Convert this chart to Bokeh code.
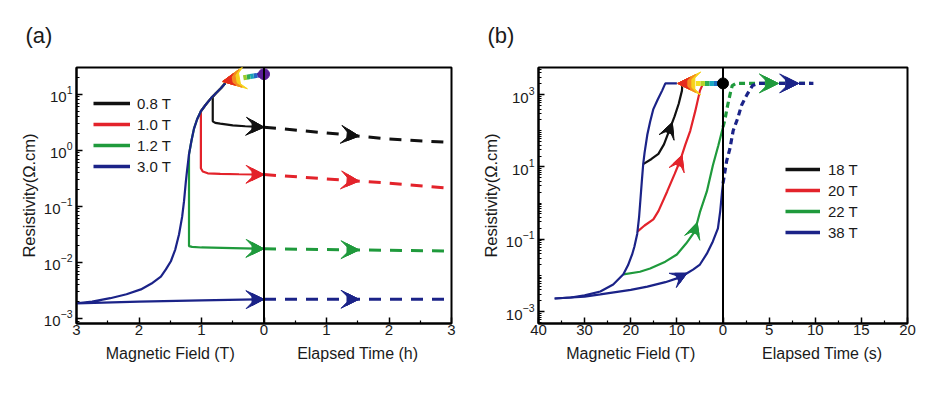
import numpy as np
from bokeh.plotting import figure
from bokeh.layouts import row
from bokeh.models import (Range1d, FixedTicker, CustomJSTickFormatter, Span, Title, LinearAxis,
                          Legend, LegendItem, Arrow, VeeHead, NormalHead)
from bokeh.embed import file_html
from bokeh.resources import INLINE

FONT = "Liberation Sans"
BLACK, RED, GREEN, BLUE = "#111111", "#e3232b", "#1f9a3c", "#1b2388"

# ======================= panel (a) data =======================
series_a = ["0.8 T", "1.0 T", "1.2 T", "3.0 T"]
colors_a = [BLACK, RED, GREEN, BLUE]
axis_titles_a = ["Magnetic Field (T)", "Elapsed Time (h)"]

# field up-sweep (common curve), field in T, resistivity in Ohm.cm
upsweep_a_B = [0.62, 0.69, 0.77, 0.85, 0.93, 1.01, 1.07, 1.12, 1.16, 1.20, 1.23, 1.25,
               1.28, 1.31, 1.36, 1.42, 1.49, 1.57, 1.65, 1.80, 1.97, 2.20, 2.46, 2.75, 3.00]
upsweep_a_rho = [15.8, 12.9, 10.5, 8.5, 6.6, 5.0, 3.6, 2.45, 1.5, 0.85, 0.45, 0.28,
                 0.123, 0.065, 0.0316, 0.017, 0.0105, 0.0075, 0.0056, 0.0042, 0.0033,
                 0.0027, 0.0023, 0.0020, 0.00186]
stop_field_a = [0.82, 1.01, 1.20, 3.00]

# field held / swept back to zero
hold_08_B = [0.82, 0.82, 0.78, 0.70, 0.50, 0.30, 0.00]
hold_08_rho = [9.0, 3.3, 3.1, 3.0, 2.8, 2.7, 2.6]
hold_10_B = [1.01, 1.01, 0.98, 0.90, 0.70, 0.40, 0.00]
hold_10_rho = [5.0, 0.48, 0.42, 0.39, 0.38, 0.375, 0.37]
hold_12_B = [1.20, 1.20, 1.15, 1.00, 0.50, 0.00]
hold_12_rho = [0.85, 0.0195, 0.0190, 0.0185, 0.0180, 0.0175]
hold_30_B = [3.00, 2.00, 1.00, 0.00]
hold_30_rho = [0.00186, 0.0020, 0.0021, 0.0022]

# relaxation at zero field vs elapsed time (h)
time_a_h = [0, 1, 2, 3]
relax_08 = [2.6, 2.05, 1.6, 1.38]
relax_10 = [0.37, 0.31, 0.26, 0.21]
relax_12 = [0.0175, 0.017, 0.0165, 0.016]
relax_30 = [0.0022, 0.0022, 0.0022, 0.0022]

start_a = (0.0, 23.0)     # (field, rho) sweep start
tip_a = (0.66, 17.0)      # (field, rho) rainbow arrow tip

# ======================= panel (b) data =======================
series_b = ["18 T", "20 T", "22 T", "38 T"]
colors_b = [BLACK, RED, GREEN, BLUE]
axis_titles_b = ["Magnetic Field (T)", "Elapsed Time (s)"]

up_b_B = [10.0, 12.5, 13.2, 14.2, 15.1, 15.8, 16.4, 17.0, 17.3, 17.6, 17.9, 18.2, 18.6,
          19.2, 19.7, 20.6, 21.6, 23.8, 26.6, 30.0, 33.0, 36.5]
up_b_rho = [2040, 2040, 1290, 708, 398, 178, 79, 25, 12, 4.0, 1.26, 0.40, 0.14,
            0.063, 0.038, 0.019, 0.0107, 0.0056, 0.0036, 0.0028, 0.00245, 0.0023]

ret_38_B = [36.5, 30.0, 26.6, 20.0, 16.4, 12.5, 10.0, 7.8, 6.5, 5.0, 3.5, 2.2, 1.1, 0.6, 0.2, 0.0]
ret_38_rho = [0.0023, 0.0026, 0.0030, 0.0040, 0.0049, 0.0065, 0.0083, 0.0115, 0.0145,
              0.020, 0.040, 0.087, 0.20, 0.60, 2.1, 3.5]
ret_22_B = [21.6, 18.0, 15.8, 12.5, 10.0, 8.0, 6.1, 5.0, 3.5, 2.2, 1.0, 0.0]
ret_22_rho = [0.0107, 0.0126, 0.0155, 0.024, 0.038, 0.076, 0.166, 0.56, 2.1, 11, 40, 126]
ret_20_B = [18.5, 17.0, 15.1, 14.0, 12.1, 10.5, 9.3, 8.2, 7.1, 6.0, 5.0, 4.3]
ret_20_rho = [0.166, 0.24, 0.355, 0.60, 2.1, 6.3, 14.8, 40, 100, 355, 1290, 2040]
ret_18_B = [17.3, 15.5, 14.0, 12.8, 11.5, 10.5, 9.6, 8.9, 8.8]
ret_18_rho = [12, 16.6, 23, 42, 115, 250, 560, 1290, 2040]

time_38_s = [0, 0.4, 0.75, 1.1, 1.6, 2.0, 2.6, 3.2, 3.8, 9.8]
relax_38 = [3.5, 14.8, 32, 100, 224, 500, 1000, 1780, 2040, 2040]
time_22_s = [0, 0.2, 0.5, 0.8, 1.0, 1.4, 9.5]
relax_22 = [126, 200, 500, 1120, 1780, 2040, 2040]

start_b = (0.0, 2040.0)
tip_b = (9.8, 2040.0)


# ======================= helpers =======================
def logi(xs, rs, x):
    xs = np.asarray(xs, float)
    rs = np.log10(np.asarray(rs, float))
    o = np.argsort(xs, kind="stable")
    return float(10 ** np.interp(x, xs[o], rs[o]))


def add_head(p, x0, y0, x1, y1, head):
    p.add_layout(Arrow(end=head, x_start=x0, y_start=y0, x_end=x1, y_end=y1,
                       line_alpha=0, line_width=0))


def add_arrow(p, x0, y0, x1, y1, color, size=17):
    add_head(p, x0, y0, x1, y1, VeeHead(size=size, fill_color=color, line_color=color, line_width=1))
    add_head(p, x0, y0, x1, y1, NormalHead(size=round(size * 0.68), fill_color=color,
                                           line_color=color, line_width=1))


def rainbow_arrow(p, x0, y0, x1, y1, colors, frac):
    n = len(colors)
    xs = np.linspace(x0, x0 + (x1 - x0) * frac, n + 1)
    ly = np.linspace(np.log10(y0), np.log10(y0) + (np.log10(y1) - np.log10(y0)) * frac, n + 1)
    ys = 10 ** ly
    p.segment(xs[:-1], ys[:-1], xs[1:], ys[1:], line_color=colors, line_width=5)
    xb = x0 + (x1 - x0) * 0.3
    yb = 10 ** (np.log10(y0) + (np.log10(y1) - np.log10(y0)) * 0.3)
    for size, c in [(23, "#f6d21c"), (18, "#f58a1f"), (12, "#e62a1d")]:
        add_head(p, xb, yb, x1, y1, VeeHead(size=size, fill_color=c, line_color=c, line_width=1))
        add_head(p, xb, yb, x1, y1, NormalHead(size=round(size * 0.72), fill_color=c,
                                               line_color=c, line_width=1))


def style(p):
    p.xgrid.visible = False
    p.ygrid.visible = False
    p.outline_line_color = "black"
    p.outline_line_width = 2
    p.outline_line_alpha = 1
    for ax in (p.xaxis[0], p.yaxis[0]):
        ax.axis_line_width = 2
        ax.axis_line_color = "black"
        ax.major_tick_in = 6
        ax.major_tick_out = 0
        ax.minor_tick_in = 3
        ax.minor_tick_out = 0
        ax.major_tick_line_width = 1.5
        ax.minor_tick_line_width = 1.2
        ax.major_tick_line_color = "black"
        ax.minor_tick_line_color = "black"
        ax.major_label_text_font = FONT
        ax.major_label_text_font_size = "15px"
        ax.major_label_text_color = "#1a1a1a"
    p.xaxis[0].major_label_standoff = 1
    p.yaxis[0].major_label_standoff = 4
    p.yaxis[0].axis_label = "Resistivity(\u03a9.cm)"
    p.yaxis[0].axis_label_text_font = FONT
    p.yaxis[0].axis_label_text_font_size = "16.5px"
    p.yaxis[0].axis_label_text_font_style = "normal"
    p.yaxis[0].axis_label_text_color = "#1a1a1a"
    p.yaxis[0].axis_label_standoff = 3


def title_axis(p, positions, titles):
    code = "return tick < 0 ? %r : %r;" % (titles[0], titles[1])
    ax = LinearAxis(ticker=FixedTicker(ticks=positions, minor_ticks=[]),
                    formatter=CustomJSTickFormatter(code=code),
                    axis_line_alpha=0, major_tick_line_alpha=0, minor_tick_line_alpha=0,
                    major_tick_in=0, major_tick_out=0, minor_tick_in=0, minor_tick_out=0,
                    major_label_standoff=7, major_label_text_font=FONT,
                    major_label_text_font_size="16px", major_label_text_color="#1a1a1a")
    p.add_layout(ax, "below")


def panel_title(p, s, offset):
    p.add_layout(Title(text=s, align="left", offset=offset, standoff=40, text_font=FONT,
                       text_font_size="22px", text_font_style="normal", text_color="#1a1a1a"),
                 "above")


def legend(p, labels, colors, loc, gw, standoff):
    rs = [p.line([np.nan, np.nan], [np.nan, np.nan], line_color=c, line_width=3.5) for c in colors]
    p.add_layout(Legend(items=[LegendItem(label=s, renderers=[r]) for s, r in zip(labels, rs)],
                        location=loc, padding=0, margin=0, spacing=1,
                        glyph_width=gw, glyph_height=20, label_height=20, label_standoff=standoff,
                        label_text_font=FONT, label_text_font_size="15px",
                        label_text_color="#1a1a1a", border_line_alpha=0, background_fill_alpha=0))


# ======================= panel (a) =======================
YA = (10 ** -3.09, 10 ** 1.48)
pa = figure(frame_width=375, frame_height=256, min_border_left=76, min_border_right=19,
            min_border_top=67, min_border_bottom=60, y_axis_type="log",
            x_range=Range1d(-3, 3), y_range=Range1d(*YA),
            output_backend="svg", toolbar_location=None)
style(pa)
pa.xaxis[0].ticker = FixedTicker(ticks=[-3, -2, -1, 0, 1, 2, 3],
                                 minor_ticks=[-2.5, -1.5, -0.5, 0.5, 1.5, 2.5])
pa.xaxis[0].formatter = CustomJSTickFormatter(code="return String(Math.abs(tick));")
pa.yaxis[0].ticker = FixedTicker(ticks=[1e-3, 1e-2, 1e-1, 1e0, 1e1],
                                 minor_ticks=[m * 10.0 ** k for k in range(-4, 2) for m in range(2, 10)])

holds_a = [(hold_08_B, hold_08_rho), (hold_10_B, hold_10_rho),
           (hold_12_B, hold_12_rho), (hold_30_B, hold_30_rho)]
relax_a = [relax_08, relax_10, relax_12, relax_30]

for stop, (hB, hr), rel, c in zip(stop_field_a, holds_a, relax_a, colors_a):
    B = [b for b in upsweep_a_B if b < stop] + hB
    r = [v for b, v in zip(upsweep_a_B, upsweep_a_rho) if b < stop] + hr
    pa.line([-b for b in B], r, line_color=c, line_width=2.2)
    pa.line(time_a_h, rel, line_color=c, line_width=3, line_dash="12 9")
for (hB, hr), rel, c in zip(holds_a, relax_a, colors_a):
    add_arrow(pa, -0.25, logi(hB[1:], hr[1:], 0.25), 0.0, hr[-1], c, 18)
    add_arrow(pa, 1.3, logi(time_a_h, rel, 1.3), 1.52, logi(time_a_h, rel, 1.52), c, 18)

pa.add_layout(Span(location=0, dimension="height", line_color="black", line_width=2))
rainbow_arrow(pa, -start_a[0], start_a[1], -tip_a[0], tip_a[1],
              ["#5a1e96", "#3a2db0", "#2366c4", "#1aa0b8", "#2fae55", "#9ccc2c"], 0.5)
pa.scatter([-start_a[0]], [start_a[1]], size=11, color="#5a1e96")

legend(pa, series_a, colors_a, (17, 147), 37, 7)
title_axis(pa, [-1.5, 1.5], axis_titles_a)
panel_title(pa, "(a)", -51)

# ======================= panel (b) =======================
YB = (10 ** -3.33, 10 ** 3.75)
pb = figure(frame_width=369, frame_height=256, min_border_left=68, min_border_right=14,
            min_border_top=67, min_border_bottom=60, y_axis_type="log",
            x_range=Range1d(-40, 40), y_range=Range1d(*YB),
            output_backend="svg", toolbar_location=None)
style(pb)
pb.xaxis[0].ticker = FixedTicker(ticks=list(range(-40, 41, 10)),
                                 minor_ticks=list(range(-35, 40, 10)))
pb.xaxis[0].formatter = CustomJSTickFormatter(
    code="return tick <= 0 ? String(Math.abs(tick)) : String(tick / 2);")
pb.yaxis[0].ticker = FixedTicker(ticks=[1e-3, 1e-1, 1e1, 1e3],
                                 minor_ticks=[m * 10.0 ** k for k in range(-4, 4) for m in range(1, 10)])

# field sweeps (x = -B), time (x = 2 t)
pb.line([-b for b in ret_18_B], ret_18_rho, line_color=BLACK, line_width=2.2)
pb.line([-b for b in ret_20_B], ret_20_rho, line_color=RED, line_width=2.2)
pb.line([-b for b in ret_22_B], ret_22_rho, line_color=GREEN, line_width=2.2)
pb.line([-b for b in up_b_B], up_b_rho, line_color=BLUE, line_width=2.2)
pb.line([-b for b in ret_38_B], ret_38_rho, line_color=BLUE, line_width=2.2)
pb.line([2 * t for t in time_22_s], relax_22, line_color=GREEN, line_width=3.2, line_dash="6 4")
pb.line([2 * t for t in time_38_s], relax_38, line_color=BLUE, line_width=3.2, line_dash="6 4")

add_arrow(pb, -11.6, logi(ret_18_B, ret_18_rho, 11.6), -11.0, logi(ret_18_B, ret_18_rho, 11.0), BLACK, 16)
add_arrow(pb, -9.5, logi(ret_20_B, ret_20_rho, 9.5), -8.9, logi(ret_20_B, ret_20_rho, 8.9), RED, 16)
add_arrow(pb, -6.3, logi(ret_22_B, ret_22_rho, 6.3), -5.6, logi(ret_22_B, ret_22_rho, 5.6), GREEN, 16)
add_arrow(pb, -8.8, logi(ret_38_B, ret_38_rho, 8.8), -7.8, logi(ret_38_B, ret_38_rho, 7.8), BLUE, 16)
add_arrow(pb, 2 * 5.0, logi(time_22_s, relax_22, 5.0), 2 * 6.0, logi(time_22_s, relax_22, 6.0), GREEN, 19)
add_arrow(pb, 2 * 7.2, logi(time_38_s, relax_38, 7.2), 2 * 8.2, logi(time_38_s, relax_38, 8.2), BLUE, 19)

pb.add_layout(Span(location=0, dimension="height", line_color="black", line_width=2))
rainbow_arrow(pb, -start_b[0], start_b[1], -tip_b[0], tip_b[1],
              ["#1b2f9e", "#1a6fc4", "#19a8c0", "#2fae55", "#b8d42a", "#f5e020"], 0.6)
pb.scatter([-start_b[0]], [start_b[1]], size=11, color="black")

legend(pb, series_b, colors_b, (247, 81), 35, 8)
title_axis(pb, [-20, 21.5], axis_titles_b)
panel_title(pb, "(b)", -51)

layout = row(pa, pb)
open("out.html", "w").write(file_html(layout, INLINE))
